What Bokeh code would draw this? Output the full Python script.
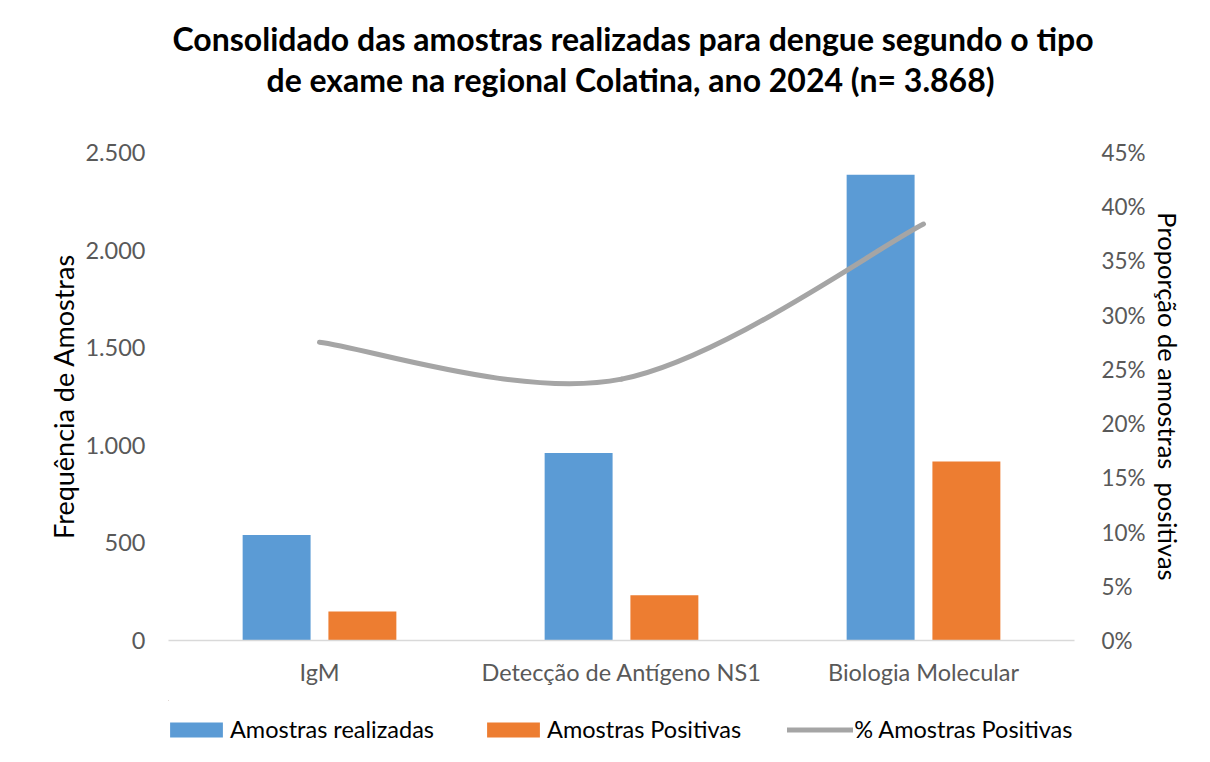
import numpy as np
from bokeh.plotting import figure
from bokeh.layouts import column
from bokeh.models import Range1d, LinearAxis, FixedTicker, Legend, LegendItem, Title
from bokeh.embed import file_html
from bokeh.resources import INLINE

# ---- data ----
categorias = ["IgM", "Detecção de Antígeno NS1", "Biologia Molecular"]
amostras_realizadas = [541, 961, 2386]
amostras_positivas = [149, 232, 917]
pct_positivas = [27.5, 24.1, 38.4]
left_ticks = [0, 500, 1000, 1500, 2000, 2500]
left_tick_labels = ["0", "500", "1.000", "1.500", "2.000", "2.500"]
right_ticks = [0, 5, 10, 15, 20, 25, 30, 35, 40, 45]
right_tick_labels = ["0%", "5%", "10%", "15%", "20%", "25%", "30%", "35%", "40%", "45%"]
series_names = ["Amostras realizadas", "Amostras Positivas", "% Amostras Positivas"]

FONT = "Lato"
BLUE = "#5B9BD5"
ORANGE = "#ED7D31"
GRAY = "#A5A5A5"
TICK_C = "#595959"

n = len(categorias)
xc = np.arange(n) + 0.5

p = figure(width=1210, height=700, output_backend="svg", toolbar_location=None,
           x_range=Range1d(0, n), y_range=Range1d(0, 2500),
           min_border_left=168, min_border_right=136, min_border_top=152, min_border_bottom=60,
           title=None)
p.extra_y_ranges = {"pct": Range1d(0, 45)}
p.outline_line_color = None
p.xgrid.grid_line_color = None
p.ygrid.grid_line_color = None

off = 0.142
bw = 0.225
p.vbar(x=xc - off, top=amostras_realizadas, width=bw, color=BLUE, line_color=None)
p.vbar(x=xc + off, top=amostras_positivas, width=bw, color=ORANGE, line_color=None)

# smoothed line (Excel-like Catmull-Rom bezier)
xs = list(xc)
ys = list(pct_positivas)
x0, y0, x1, y1, cx0, cy0, cx1, cy1 = [], [], [], [], [], [], [], []
for i in range(n - 1):
    ip = max(i - 1, 0)
    inn = min(i + 2, n - 1)
    x0.append(xs[i]); y0.append(ys[i]); x1.append(xs[i + 1]); y1.append(ys[i + 1])
    cx0.append(xs[i] + (xs[i + 1] - xs[ip]) / 6); cy0.append(ys[i] + (ys[i + 1] - ys[ip]) / 6)
    cx1.append(xs[i + 1] - (xs[inn] - xs[i]) / 6); cy1.append(ys[i + 1] - (ys[inn] - ys[i]) / 6)
p.bezier(x0=x0, y0=y0, x1=x1, y1=y1, cx0=cx0, cy0=cy0, cx1=cx1, cy1=cy1,
         y_range_name="pct", line_color=GRAY, line_width=5, line_cap="round")

# x axis
xa = p.xaxis[0]
xa.ticker = FixedTicker(ticks=list(xc))
xa.major_label_overrides = {float(v): c for v, c in zip(xc, categorias)}
xa.major_tick_line_color = None
xa.minor_tick_line_color = None
xa.axis_line_color = "#D9D9D9"
xa.axis_line_width = 1.5
xa.major_label_text_font = FONT
xa.major_label_text_font_size = "23.5px"
xa.major_label_text_color = TICK_C
xa.major_label_standoff = 11

# left axis
ya = p.yaxis[0]
ya.ticker = FixedTicker(ticks=left_ticks)
ya.major_label_overrides = dict(zip(left_ticks, left_tick_labels))
ya.axis_line_color = None
ya.major_tick_line_color = None
ya.minor_tick_line_color = None
ya.major_label_text_font = FONT
ya.major_label_text_font_size = "23.5px"
ya.major_label_text_color = TICK_C
ya.major_label_standoff = 17
ya.axis_label = "Frequência de Amostras"
ya.axis_label_text_font = FONT
ya.axis_label_text_font_size = "27px"
ya.axis_label_text_font_style = "normal"
ya.axis_label_text_color = "#000000"
ya.axis_label_standoff = 2

# right axis
ra = LinearAxis(y_range_name="pct", ticker=FixedTicker(ticks=right_ticks))
ra.major_label_overrides = dict(zip(right_ticks, right_tick_labels))
ra.axis_line_color = None
ra.major_tick_line_color = None
ra.minor_tick_line_color = None
ra.major_label_text_font = FONT
ra.major_label_text_font_size = "22.5px"
ra.major_label_text_color = TICK_C
ra.major_label_standoff = 21
ra.axis_label = "Proporção de amostras\u00a0 positivas"
ra.axis_label_text_font = FONT
ra.axis_label_text_font_size = "25.5px"
ra.axis_label_text_font_style = "normal"
ra.axis_label_text_color = "#000000"
ra.axis_label_standoff = 4
p.add_layout(ra, "right")

# titles: spacer first (closest to plot), then line 2, then line 1
spacer = Title(text="\u00a0", text_font=FONT, text_font_size="44px", standoff=0)
t2 = Title(text="de exame na regional Colatina, ano 2024 (n= 3.868)", align="left", offset=98,
           text_font=FONT, text_font_size="32px", text_font_style="bold", text_color="#000000",
           standoff=0)
t1 = Title(text="Consolidado das amostras realizadas para dengue segundo o tipo", align="left",
           offset=4,
           text_font=FONT, text_font_size="32px", text_font_style="bold", text_color="#000000",
           standoff=0)
p.add_layout(spacer, "above")
p.add_layout(t2, "above")
p.add_layout(t1, "above")

# legend strip: same series placed far out of view, used only for legend glyphs
lf = figure(width=1210, height=62, output_backend="svg", toolbar_location=None,
            x_range=Range1d(1000, 1001), y_range=Range1d(-2000, -1999),
            min_border=0, title=None)
lf.axis.visible = False
lf.grid.grid_line_color = None
lf.outline_line_color = None
lb = lf.vbar(x=xc - off, top=amostras_realizadas, width=bw, color=BLUE, line_color=None)
lo = lf.vbar(x=xc + off, top=amostras_positivas, width=bw, color=ORANGE, line_color=None)
ll = lf.line(x=xc, y=pct_positivas, line_color=GRAY, line_width=5, line_cap="round")
legend = Legend(items=[LegendItem(label=series_names[0], renderers=[lb]),
                       LegendItem(label=series_names[1], renderers=[lo]),
                       LegendItem(label=series_names[2], renderers=[ll])],
                orientation="horizontal", location=(-5, 19),
                glyph_width=66, glyph_height=19, label_standoff=1, spacing=46,
                label_height=15,
                padding=0, margin=0, border_line_color=None, background_fill_alpha=0,
                label_text_font=FONT, label_text_font_size="23.5px", label_text_color="#000000")
lf.add_layout(legend, "center")

open("out.html", "w").write(file_html(column(p, lf, spacing=0), INLINE))
